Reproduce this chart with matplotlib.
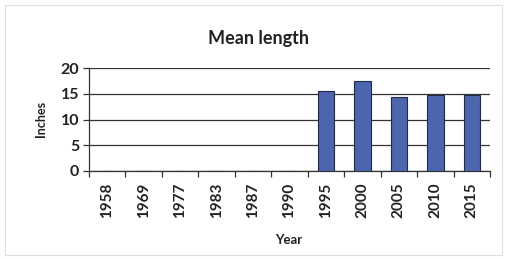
import matplotlib
matplotlib.use("Agg")
import matplotlib.pyplot as plt
from matplotlib.patches import Rectangle

years = ["1958", "1969", "1977", "1983", "1987", "1990", "1995", "2000", "2005", "2010", "2015"]
mean_length = [0, 0, 0, 0, 0, 0, 15.5, 17.5, 14.4, 14.8, 14.8]
y_ticks = [0, 5, 10, 15, 20]

plt.rcParams['font.family'] = ['Lato', 'DejaVu Sans']

W, H = 505, 259
fig = plt.figure(figsize=(W / 100, H / 100), dpi=100)
fig.patch.set_facecolor('white')
fig.add_artist(Rectangle((5 / W, 4 / H), 497 / W, 250 / H, transform=fig.transFigure,
                         fill=False, edgecolor='#e0e0e0', linewidth=0.8))

ax = fig.add_axes([89 / W, 1 - 171 / H, 401 / W, 103 / H])
x = list(range(len(years)))
ax.bar(x, mean_length, width=0.45, color='#4d65ad', edgecolor='#1f2a4a', linewidth=0.8, zorder=3)

ax.set_xlim(-0.5, len(years) - 0.5)
ax.set_ylim(0, 20)
ax.set_yticks(y_ticks)
ax.set_yticklabels([str(v) for v in y_ticks], fontsize=11.5, fontweight='bold', color='#222222')
ax.yaxis.grid(True, color='#333333', linewidth=0.9, zorder=0)
ax.set_axisbelow(True)

ax.set_xticks([i + 0.5 for i in range(-1, len(years))])
ax.set_xticklabels([])
ax.set_xticks(x, minor=True)
ax.set_xticklabels(years, minor=True, rotation=90, fontsize=11, fontweight='bold', color='#222222')
ax.tick_params(axis='x', which='minor', length=0, pad=8.5)
ax.tick_params(axis='x', which='major', length=4, width=0.9, color='#333333', direction='out')
ax.tick_params(axis='y', length=4, width=0.9, color='#333333', direction='out', pad=3)

for side in ['top', 'right']:
    ax.spines[side].set_visible(False)
ax.spines['left'].set_color('#333333')
ax.spines['bottom'].set_color('#333333')
ax.spines['left'].set_linewidth(0.9)
ax.spines['bottom'].set_linewidth(0.9)

fig.text(259 / W, 1 - 44 / H, "Mean length", fontsize=13, fontweight='bold', color='#222222',
         ha='center', va='baseline')
fig.text(41 / W, 1 - 119 / H, "Inches", fontsize=9, fontweight='bold', color='#222222',
         ha='center', va='center', rotation=90)
fig.text(289 / W, 1 - 240 / H, "Year", fontsize=9.5, fontweight='bold', color='#222222',
         ha='center', va='center')

fig.savefig("out.png", dpi=100)
